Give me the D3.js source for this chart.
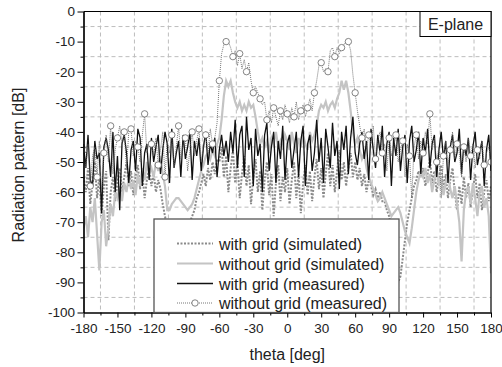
<!DOCTYPE html>
<html>
<head>
<meta charset="utf-8">
<script src="https://cdn.jsdelivr.net/npm/d3@7"></script>
<style>
  body { margin: 0; background: #fff; }
  text { font-family: "Liberation Sans", Arial, sans-serif; }
</style>
</head>
<body>
<div id="chart"></div>
<script>
// angle grid of the traces (deg), 2 deg step
const thetaStart = -180;
const thetaStep = 2;

// with grid (simulated)
const withGridSim = [
  -55,-60,-52,-64,-57,-50,-62,-55,-68,-58, -53,-76,-60,-55,-63,-57,-52,-60,-55,-50,
  -58,-53,-61,-55,-51,-59,-54,-62,-56,-52, -58,-54,-60,-56,-59,-64,-68,-72,-78,-84,
  -88,-92,-90,-86,-82,-78,-74,-70,-68,-66, -62,-60,-57,-54,-58,-52,-56,-50,-54,-49,
  -50,-45,-55,-48,-60,-52,-46,-57,-50,-62, -54,-48,-58,-51,-64,-55,-49,-60,-53,-66,
  -56,-50,-61,-54,-68,-57,-51,-63,-55,-60, -52,-64,-56,-50,-62,-54,-67,-57,-51,-61,
  -53,-63,-55,-49,-59,-52,-62,-54,-47,-58, -51,-60,-53,-46,-56,-50,-58,-52,-47,-55,
  -50,-56,-52,-58,-54,-60,-56,-58,-61,-59, -62,-60,-63,-63,-66,-68,-72,-78,-85,-90,
  -88,-82,-76,-70,-66,-62,-58,-56,-53,-55, -52,-58,-54,-49,-57,-53,-60,-55,-51,-59,
  -54,-62,-56,-52,-60,-66,-58,-64,-55,-62, -57,-65,-59,-54,-62,-57,-66,-60,-56,-63,
  -58
];

// without grid (simulated)
const withoutGridSim = [
  -72,-68,-75,-65,-70,-62,-74,-86,-70,-66, -78,-72,-64,-68,-60,-62,-58,-63,-57,-60,
  -55,-59,-56,-61,-54,-58,-52,-56,-50,-54, -52,-55,-50,-53,-48,-54,-58,-66,-66,-64,
  -63,-62,-62,-63,-64,-65,-66,-65,-64,-62, -59,-56,-53,-51,-48,-47,-49,-46,-48,-44,
  -42,-36,-28,-23,-25,-23,-27,-30,-32,-30, -33,-31,-33,-30,-32,-31,-35,-40,-44,-42,
  -45,-43,-47,-42,-44,-40,-45,-43,-46,-41, -43,-46,-40,-44,-47,-42,-45,-41,-44,-46,
  -40,-43,-41,-38,-33,-31,-32,-30,-33,-31, -30,-32,-29,-27,-23,-26,-23,-27,-33,-40,
  -44,-42,-46,-49,-47,-52,-55,-57,-59,-61, -63,-62,-60,-62,-64,-66,-68,-67,-66,-65,
  -67,-70,-73,-75,-77,-72,-66,-60,-56,-53, -55,-52,-57,-54,-60,-56,-52,-58,-55,-61,
  -57,-54,-59,-62,-58,-64,-70,-83,-66,-60, -58,-64,-57,-62,-68,-60,-58,-65,-62,-68,
  -87
];

// with grid (measured)
const withGridMeas = [
  -44,-52,-41,-56,-58,-43,-49,-47,-67,-45, -42,-46,-55,-40,-60,-48,-66,-44,-41,-47,
  -57,-46,-43,-53,-39,-42,-58,-47,-44,-56, -42,-50,-45,-41,-54,-46,-40,-44,-57,-39,
  -52,-47,-43,-55,-41,-49,-45,-40,-56,-43, -48,-42,-53,-45,-40,-51,-44,-47,-42,-55,
  -46,-41,-48,-43,-50,-40,-47,-36,-52,-41, -38,-55,-35,-46,-42,-58,-39,-48,-44,-60,
  -41,-37,-53,-45,-40,-57,-43,-49,-38,-56, -44,-41,-52,-46,-40,-55,-43,-38,-58,-44,
  -41,-53,-47,-36,-50,-42,-57,-39,-45,-52, -37,-48,-43,-59,-40,-46,-38,-54,-42,-35,
  -47,-51,-44,-40,-49,-43,-56,-39,-46,-52, -41,-47,-38,-55,-44,-40,-58,-42,-48,-39,
  -53,-45,-41,-57,-43,-38,-50,-46,-40,-54, -42,-47,-39,-52,-44,-41,-55,-46,-40,-49,
  -43,-57,-45,-41,-50,-47,-39,-54,-44,-48, -42,-56,-45,-40,-51,-47,-43,-58,-46,-41,
  -53
];

// without grid (measured)
const withoutGridMeas = [
  -46,-52,-44,-58,-48,-45,-55,-43,-60,-47, -41,-50,-38,-54,-46,-42,-38,-44,-40,-52,
  -40,-39,-48,-43,-45,-50,-41,-34,-47,-43, -44,-48,-42,-51,-46,-40,-55,-43,-47,-41,
  -52,-45,-38,-49,-44,-42,-53,-46,-40,-48, -43,-39,-50,-45,-41,-47,-39,-44,-42,-37,
  -23,-14,-11,-10,-10,-12,-15,-13,-18,-14, -19,-16,-20,-17,-23,-27,-25,-27,-29,-31,
  -30,-36,-33,-37,-32,-35,-38,-33,-36,-31, -34,-37,-32,-35,-30,-36,-33,-31,-35,-32,
  -29,-33,-27,-23,-18,-17,-20,-19,-20,-13, -12,-15,-12,-14,-12,-11,-10,-10,-13,-21,
  -27,-33,-38,-42,-39,-46,-41,-44,-38,-49, -43,-40,-47,-44,-53,-42,-48,-45,-41,-50,
  -46,-43,-55,-44,-48,-62,-45,-41,-49,-43, -47,-40,-44,-34,-46,-42,-50,-45,-62,-48,
  -43,-51,-46,-40,-49,-44,-47,-55,-45,-50, -42,-48,-44,-52,-46,-49,-43,-51,-47,-45,
  -50
];

const xTicks = [-180, -150, -120, -90, -60, -30, 0, 30, 60, 90, 120, 150, 180];
const yTicks = [0, -10, -20, -30, -40, -50, -60, -70, -80, -90, -100];
const legendLabels = ["with grid (simulated)", "without grid (simulated)", "with grid (measured)", "without grid (measured)"];

const width = 502, height = 367;
const plotL = 83.5, plotR = 491, plotT = 11.5, plotB = 312.5;
const font = "Liberation Sans, Arial, sans-serif";

const theta = withGridSim.map((d, i) => thetaStart + i * thetaStep);

const x = d3.scaleLinear().domain([-180, 180]).range([plotL, plotR]);
const y = d3.scaleLinear().domain([-100, 0]).range([plotB, plotT]);

const svg = d3.select("#chart").append("svg")
  .attr("width", width)
  .attr("height", height);

svg.append("defs").append("clipPath").attr("id", "plot")
  .append("rect")
  .attr("x", plotL).attr("y", plotT)
  .attr("width", plotR - plotL).attr("height", plotB - plotT);

// dashed grid sits on the minor ticks
const xGrid = d3.range(-165, 180, 30);
const yGrid = d3.range(-95, 0, 10);
svg.append("g").selectAll("line").data(xGrid).enter().append("line")
  .attr("x1", (d) => x(d)).attr("x2", (d) => x(d))
  .attr("y1", plotT).attr("y2", plotB)
  .attr("stroke", "#bdbdbd").attr("stroke-dasharray", "4,3");
svg.append("g").selectAll("line").data(yGrid).enter().append("line")
  .attr("x1", plotL).attr("x2", plotR)
  .attr("y1", (d) => y(d)).attr("y2", (d) => y(d))
  .attr("stroke", "#bdbdbd").attr("stroke-dasharray", "4,3");

const line = d3.line().x((d) => x(d[0])).y((d) => y(d[1]));
const pairs = (vals) => vals.map((v, i) => [theta[i], v]);

const plot = svg.append("g").attr("clip-path", "url(#plot)");

plot.append("path").datum(pairs(withGridSim))
  .attr("d", line).attr("fill", "none")
  .attr("stroke", "#8a8a8a").attr("stroke-width", 2).attr("stroke-dasharray", "2,1.5");

plot.append("path").datum(pairs(withoutGridSim))
  .attr("d", line).attr("fill", "none")
  .attr("stroke", "#c4c4c4").attr("stroke-width", 2.2);

plot.append("path").datum(pairs(withGridMeas))
  .attr("d", line).attr("fill", "none")
  .attr("stroke", "#111").attr("stroke-width", 1.3);

plot.append("path").datum(pairs(withoutGridMeas))
  .attr("d", line).attr("fill", "none")
  .attr("stroke", "#666").attr("stroke-width", 0.9).attr("stroke-dasharray", "1,1");

plot.selectAll(".dot")
  .data(pairs(withoutGridMeas).filter((d, i) => i % 3 === 0))
  .enter().append("circle")
  .attr("class", "dot")
  .attr("r", 3.2)
  .attr("cx", (d) => x(d[0]))
  .attr("cy", (d) => y(d[1]))
  .attr("fill", "#fff").attr("stroke", "#666").attr("stroke-width", 0.8);

// axes (plain hyphen minus like the original)
const fmt = (d) => String(d);
const xAxis = d3.axisBottom(x).tickValues(xTicks).tickFormat(fmt).tickSize(5).tickSizeOuter(0).tickPadding(6);
const xMinor = d3.axisBottom(x).tickValues(xGrid).tickSize(3).tickSizeOuter(0).tickFormat("");
const yAxis = d3.axisLeft(y).tickValues(yTicks).tickFormat(fmt).tickSize(6).tickSizeOuter(0).tickPadding(2.5);
const yMinor = d3.axisLeft(y).tickValues(yGrid).tickSize(3).tickSizeOuter(0).tickFormat("");

const gx = svg.append("g").attr("transform", `translate(0,${plotB})`).call(xAxis);
svg.append("g").attr("transform", `translate(0,${plotB})`).call(xMinor);
const gy = svg.append("g").attr("transform", `translate(${plotL},0)`).call(yAxis);
svg.append("g").attr("transform", `translate(${plotL},0)`).call(yMinor);

svg.selectAll(".domain").attr("stroke", "#000").attr("stroke-width", 1.2);
svg.selectAll(".tick line").attr("stroke", "#000");
gx.selectAll("text").attr("font-size", 13.5).attr("fill", "#222").attr("font-family", font);
gy.selectAll("text").attr("font-size", 13.5).attr("fill", "#222").attr("font-family", font);

// top and right frame
svg.append("path")
  .attr("d", `M${plotL},${plotT}H${plotR}V${plotB}`)
  .attr("fill", "none").attr("stroke", "#000").attr("stroke-width", 1.2);

// axis titles
svg.append("text")
  .attr("x", (plotL + plotR) / 2).attr("y", 360)
  .attr("text-anchor", "middle").attr("font-size", 16).attr("fill", "#222")
  .text("theta [deg]");
svg.append("text")
  .attr("transform", "translate(23.5,165) rotate(-90)")
  .attr("text-anchor", "middle").attr("font-size", 16).attr("fill", "#222")
  .text("Radiation pattern [dB]");

// E-plane label
svg.append("rect")
  .attr("x", 420).attr("y", plotT).attr("width", plotR - 420).attr("height", 25)
  .attr("fill", "#fff").attr("stroke", "#000").attr("stroke-width", 1);
svg.append("text")
  .attr("x", (420 + plotR) / 2).attr("y", 29.5)
  .attr("text-anchor", "middle").attr("font-size", 16).attr("fill", "#222")
  .text("E-plane");

// legend
const lg = svg.append("g");
lg.append("rect")
  .attr("x", 154).attr("y", 219).attr("width", 245).attr("height", plotB - 219)
  .attr("fill", "#fff").attr("stroke", "#555").attr("stroke-width", 1.3);
const rowY = [243.5, 263.5, 283.5, 303];
const sampleStyle = [
  { stroke: "#8a8a8a", width: 2, dash: "2,1.5" },
  { stroke: "#c4c4c4", width: 2.2, dash: null },
  { stroke: "#111", width: 1.3, dash: null },
  { stroke: "#666", width: 0.9, dash: "1,1" },
];
legendLabels.forEach((label, i) => {
  lg.append("line")
    .attr("x1", 177).attr("x2", 213).attr("y1", rowY[i]).attr("y2", rowY[i])
    .attr("stroke", sampleStyle[i].stroke).attr("stroke-width", sampleStyle[i].width)
    .attr("stroke-dasharray", sampleStyle[i].dash);
  if (i === 3) {
    lg.append("circle").attr("cx", 195).attr("cy", rowY[i]).attr("r", 3.2)
      .attr("fill", "#fff").attr("stroke", "#666").attr("stroke-width", 0.8);
  }
  lg.append("text")
    .attr("x", 219).attr("y", rowY[i] + 6)
    .attr("font-size", 16).attr("fill", "#222")
    .text(label);
});
</script>
</body>
</html>
